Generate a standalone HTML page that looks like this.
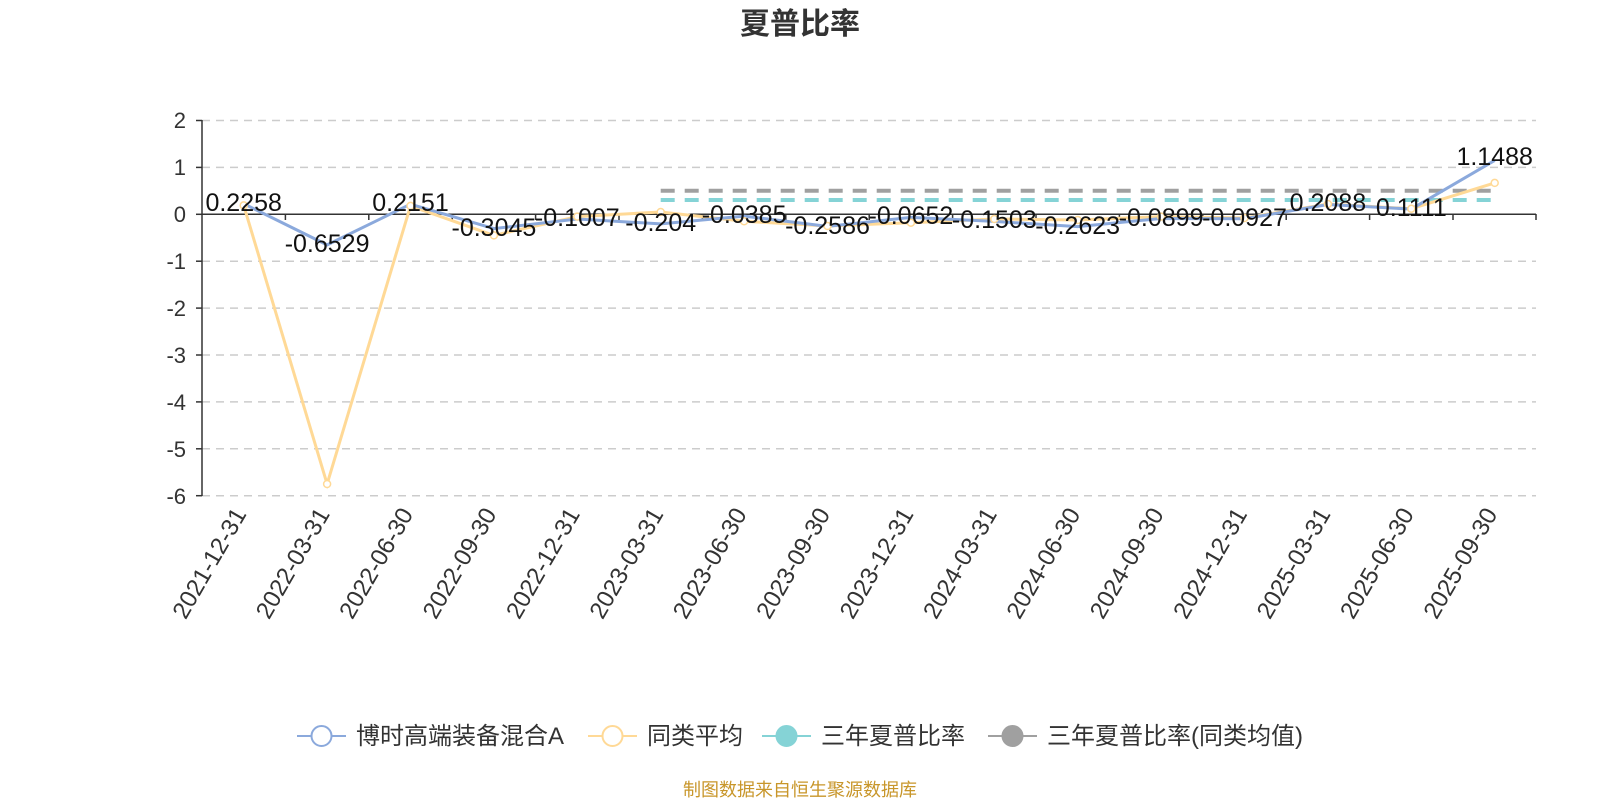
<!DOCTYPE html>
<html><head><meta charset="utf-8"><style>
html,body{margin:0;padding:0;background:#fff;}
svg{display:block;font-family:"Liberation Sans","Noto Sans CJK SC",sans-serif;}
</style></head><body>
<svg width="1600" height="800" viewBox="0 0 1600 800" xmlns="http://www.w3.org/2000/svg">
<text x="800" y="34" text-anchor="middle" font-size="30" font-weight="bold" fill="#333">夏普比率</text>
<g stroke="#ccc" stroke-width="1.5" stroke-dasharray="8,6">
<line x1="202" y1="120.5" x2="1536" y2="120.5"/>
<line x1="202" y1="167.4" x2="1536" y2="167.4"/>
<line x1="202" y1="261.2" x2="1536" y2="261.2"/>
<line x1="202" y1="308.1" x2="1536" y2="308.1"/>
<line x1="202" y1="355" x2="1536" y2="355"/>
<line x1="202" y1="401.9" x2="1536" y2="401.9"/>
<line x1="202" y1="448.8" x2="1536" y2="448.8"/>
<line x1="202" y1="495.7" x2="1536" y2="495.7"/>
</g>
<g stroke="#333" stroke-width="1.5">
<line x1="202" y1="120" x2="202" y2="496"/>
<line x1="202" y1="214.3" x2="1536" y2="214.3"/>
<line x1="196" y1="120.5" x2="202" y2="120.5"/><line x1="196" y1="167.4" x2="202" y2="167.4"/><line x1="196" y1="214.3" x2="202" y2="214.3"/><line x1="196" y1="261.2" x2="202" y2="261.2"/><line x1="196" y1="308.1" x2="202" y2="308.1"/><line x1="196" y1="355" x2="202" y2="355"/><line x1="196" y1="401.9" x2="202" y2="401.9"/><line x1="196" y1="448.8" x2="202" y2="448.8"/><line x1="196" y1="495.7" x2="202" y2="495.7"/>
<line x1="285.4" y1="214" x2="285.4" y2="220"/><line x1="368.8" y1="214" x2="368.8" y2="220"/><line x1="452.2" y1="214" x2="452.2" y2="220"/><line x1="535.6" y1="214" x2="535.6" y2="220"/><line x1="619" y1="214" x2="619" y2="220"/><line x1="702.4" y1="214" x2="702.4" y2="220"/><line x1="785.8" y1="214" x2="785.8" y2="220"/><line x1="869.2" y1="214" x2="869.2" y2="220"/><line x1="952.6" y1="214" x2="952.6" y2="220"/><line x1="1036" y1="214" x2="1036" y2="220"/><line x1="1119.4" y1="214" x2="1119.4" y2="220"/><line x1="1202.8" y1="214" x2="1202.8" y2="220"/><line x1="1286.2" y1="214" x2="1286.2" y2="220"/><line x1="1369.6" y1="214" x2="1369.6" y2="220"/><line x1="1453" y1="214" x2="1453" y2="220"/><line x1="1536" y1="214" x2="1536" y2="220"/>
</g>
<g font-size="22" fill="#333" text-anchor="end">
<text x="186" y="128">2</text><text x="186" y="175">1</text><text x="186" y="222">0</text><text x="186" y="269">-1</text><text x="186" y="316">-2</text><text x="186" y="363">-3</text><text x="186" y="410">-4</text><text x="186" y="457">-5</text><text x="186" y="504">-6</text>
</g>
<g stroke-width="4" stroke-dasharray="14,10">
<line x1="660.7" y1="190.8" x2="1494.7" y2="190.8" stroke="#a0a0a0"/>
<line x1="660.7" y1="200" x2="1494.7" y2="200" stroke="#85d3d6"/>
</g>
<polyline fill="none" stroke="#ffd996" stroke-width="3" points="243.7,205.4 327.1,484 410.5,205.9 493.9,235.4 577.3,216.6 660.7,212 744.1,221.3 827.5,226 910.9,222.7 994.3,219 1077.7,220 1161.1,216.6 1244.5,218 1327.9,204 1411.3,208.7 1494.7,182.9"/>
<polyline fill="none" stroke="#8ba9dc" stroke-width="3" points="243.7,203.7 327.1,244.9 410.5,204.2 493.9,228.6 577.3,219 660.7,223.9 744.1,216.1 827.5,226.4 910.9,217.4 994.3,221.4 1077.7,226.6 1161.1,218.5 1244.5,218.7 1327.9,204.5 1411.3,209.1 1494.7,160.4"/>
<g fill="#fff" stroke="#ffd996" stroke-width="1.5">
<circle cx="243.7" cy="205.4" r="3.5"/><circle cx="327.1" cy="484" r="3.5"/><circle cx="410.5" cy="205.9" r="3.5"/><circle cx="493.9" cy="235.4" r="3.5"/><circle cx="577.3" cy="216.6" r="3.5"/><circle cx="660.7" cy="212" r="3.5"/><circle cx="744.1" cy="221.3" r="3.5"/><circle cx="827.5" cy="226" r="3.5"/><circle cx="910.9" cy="222.7" r="3.5"/><circle cx="994.3" cy="219" r="3.5"/><circle cx="1077.7" cy="220" r="3.5"/><circle cx="1161.1" cy="216.6" r="3.5"/><circle cx="1244.5" cy="218" r="3.5"/><circle cx="1327.9" cy="204" r="3.5"/><circle cx="1411.3" cy="208.7" r="3.5"/><circle cx="1494.7" cy="182.9" r="3.5"/>
</g>
<g font-size="25" fill="#111" text-anchor="middle">
<text x="243.7" y="211">0.2258</text><text x="327.1" y="252">-0.6529</text><text x="410.5" y="211">0.2151</text><text x="493.9" y="236">-0.3045</text><text x="577.3" y="226">-0.1007</text><text x="660.7" y="231">-0.204</text><text x="744.1" y="223">-0.0385</text><text x="827.5" y="234">-0.2586</text><text x="910.9" y="224">-0.0652</text><text x="994.3" y="228">-0.1503</text><text x="1077.7" y="234">-0.2623</text><text x="1161.1" y="226">-0.0899</text><text x="1244.5" y="226">-0.0927</text><text x="1327.9" y="211">0.2088</text><text x="1411.3" y="216">0.1111</text><text x="1494.7" y="165">1.1488</text>
</g>
<g font-size="24" fill="#333" text-anchor="end">
<text transform="translate(247,514) rotate(-60)">2021-12-31</text>
<text transform="translate(330.4,514) rotate(-60)">2022-03-31</text>
<text transform="translate(413.8,514) rotate(-60)">2022-06-30</text>
<text transform="translate(497.2,514) rotate(-60)">2022-09-30</text>
<text transform="translate(580.6,514) rotate(-60)">2022-12-31</text>
<text transform="translate(664,514) rotate(-60)">2023-03-31</text>
<text transform="translate(747.4,514) rotate(-60)">2023-06-30</text>
<text transform="translate(830.8,514) rotate(-60)">2023-09-30</text>
<text transform="translate(914.2,514) rotate(-60)">2023-12-31</text>
<text transform="translate(997.6,514) rotate(-60)">2024-03-31</text>
<text transform="translate(1081,514) rotate(-60)">2024-06-30</text>
<text transform="translate(1164.4,514) rotate(-60)">2024-09-30</text>
<text transform="translate(1247.8,514) rotate(-60)">2024-12-31</text>
<text transform="translate(1331.2,514) rotate(-60)">2025-03-31</text>
<text transform="translate(1414.6,514) rotate(-60)">2025-06-30</text>
<text transform="translate(1498,514) rotate(-60)">2025-09-30</text>
</g>
<g stroke-width="2">
<line x1="297" y1="736" x2="346" y2="736" stroke="#8ba9dc"/><circle cx="321.5" cy="736" r="10" fill="#fff" stroke="#8ba9dc"/>
<line x1="588" y1="736" x2="637" y2="736" stroke="#ffd996"/><circle cx="612.5" cy="736" r="10" fill="#fff" stroke="#ffd996"/>
<line x1="762" y1="736" x2="811" y2="736" stroke="#85d3d6"/><circle cx="786.5" cy="736" r="10" fill="#85d3d6" stroke="#85d3d6"/>
<line x1="988" y1="736" x2="1037" y2="736" stroke="#a0a0a0"/><circle cx="1012.5" cy="736" r="10" fill="#a0a0a0" stroke="#a0a0a0"/>
</g>
<g font-size="24" fill="#333">
<text x="356" y="744">博时高端装备混合A</text>
<text x="647" y="744">同类平均</text>
<text x="821" y="744">三年夏普比率</text>
<text x="1047" y="744">三年夏普比率(同类均值)</text>
</g>
<text x="800" y="796" text-anchor="middle" font-size="18" fill="#c8962a">制图数据来自恒生聚源数据库</text>
</svg>
</body></html>
